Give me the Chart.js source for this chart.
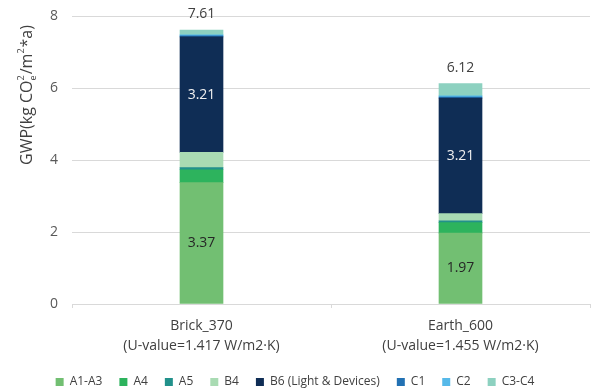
<!DOCTYPE html>
<html>
<head>
<meta charset="utf-8">
<script src="https://cdn.jsdelivr.net/npm/chart.js@4/dist/chart.umd.min.js"></script>
<style>
  html, body { margin: 0; padding: 0; background: #fff; }
  #wrap { width: 592px; height: 389px; }
</style>
</head>
<body>
<div id="wrap"><canvas id="gwp-chart" width="592" height="389"></canvas></div>
<script>
// categorias (dos lineas por etiqueta)
const categories = [
  ["Brick_370", "(U-value=1.417 W/m2·K)"],
  ["Earth_600", "(U-value=1.455 W/m2·K)"]
];

// valores por etapa, kg CO2e/m2*a
const a1a3 = [3.37, 1.97];
const a4 = [0.36, 0.29];
const a5 = [0.06, 0.05];
const b4 = [0.42, 0.20];
const b6 = [3.21, 3.21];
const c1 = [0.03, 0.03];
const c2 = [0.03, 0.03];
const c3c4 = [0.13, 0.34];

const totals = [7.61, 6.12];
const yTicks = [0, 2, 4, 6, 8];

const FONT = "'Open Sans', sans-serif";

// etiquetas dentro de las barras y totales arriba
const labelPlugin = {
  id: "labelPlugin",
  afterDatasetsDraw(chart) {
    const ctx = chart.ctx;
    const y = chart.scales.y;
    ctx.save();
    ctx.textAlign = "center";
    ctx.textBaseline = "middle";
    ctx.font = "14px " + FONT;

    [0, 4].forEach(function (di) {
      const meta = chart.getDatasetMeta(di);
      meta.data.forEach(function (bar, i) {
        const mid = (bar.y + bar.base) / 2;
        ctx.fillStyle = di === 4 ? "#f0f0f0" : "#262626";
        ctx.fillText(chart.data.datasets[di].data[i].toFixed(2), bar.x, mid);
      });
    });

    const top = chart.getDatasetMeta(0).data;
    totals.forEach(function (t, i) {
      ctx.fillStyle = "#404040";
      ctx.fillText(t.toFixed(2), top[i].x, y.getPixelForValue(t) - 16);
    });

    // titulo del eje Y con sub/superindices
    ctx.translate(27, 95);
    ctx.rotate(-Math.PI / 2);
    ctx.fillStyle = "#404040";
    ctx.textBaseline = "middle";
    const parts = [
      { t: "GWP(kg CO", f: 16, dy: 0 },
      { t: "2", f: 9, dy: -6, stack: "e" },
      { t: "/m", f: 16, dy: 0 },
      { t: "2", f: 9, dy: -6 },
      { t: "*a)", f: 16, dy: 0 }
    ];
    let w = 0;
    parts.forEach(function (p) {
      ctx.font = p.f + "px " + FONT;
      p.w = ctx.measureText(p.t).width + (p.f < 16 ? 1 : 0);
      w += p.w;
    });
    let x = -w / 2;
    ctx.textAlign = "left";
    parts.forEach(function (p) {
      ctx.font = p.f + "px " + FONT;
      ctx.fillText(p.t, x, p.dy);
      if (p.stack) ctx.fillText(p.stack, x, 6);
      x += p.w;
    });
    ctx.restore();
  }
};

const ctx = document.getElementById("gwp-chart").getContext("2d");
new Chart(ctx, {
  type: "bar",
  data: {
    labels: categories,
    datasets: [
      { label: "A1-A3", data: a1a3, backgroundColor: "#72bf72" },
      { label: "A4", data: a4, backgroundColor: "#2db35d" },
      { label: "A5", data: a5, backgroundColor: "#22918b" },
      { label: "B4", data: b4, backgroundColor: "#a9dbb3" },
      { label: "B6 (Light & Devices)", data: b6, backgroundColor: "#0f2d55" },
      { label: "C1", data: c1, backgroundColor: "#2271b3" },
      { label: "C2", data: c2, backgroundColor: "#56b9e9" },
      { label: "C3-C4", data: c3c4, backgroundColor: "#8dd1c0" }
    ]
  },
  options: {
    responsive: false,
    animation: false,
    layout: { padding: { top: 16, right: 2, left: 0, bottom: -9 } },
    datasets: { bar: { barThickness: 43, borderWidth: 0 } },
    scales: {
      x: {
        stacked: true,
        grid: { offset: true, drawOnChartArea: false, tickLength: 4, color: "#d9d9d9" },
        border: { color: "#d9d9d9" },
        ticks: { color: "#404040", font: { family: FONT, size: 14, lineHeight: 1.45 }, padding: 8 },
        afterFit: function (s) { s.height = 55; }
      },
      y: {
        stacked: true,
        min: 0,
        max: 8,
        afterBuildTicks: function (s) { s.ticks = yTicks.map(function (v) { return { value: v }; }); },
        grid: { color: "#d9d9d9", drawTicks: false },
        border: { display: false },
        ticks: { color: "#595959", font: { family: FONT, size: 14 }, padding: 14 },
        afterFit: function (s) {
          s.width = 72;
          s.paddingTop = 8;
          s.paddingBottom = 8;
        }
      }
    },
    plugins: {
      legend: {
        position: "bottom",
        labels: {
          boxWidth: 8,
          boxHeight: 8,
          padding: 17,
          color: "#404040",
          font: { family: FONT, size: 12 }
        }
      },
      tooltip: { enabled: false }
    }
  },
  plugins: [labelPlugin]
});
</script>
</body>
</html>
